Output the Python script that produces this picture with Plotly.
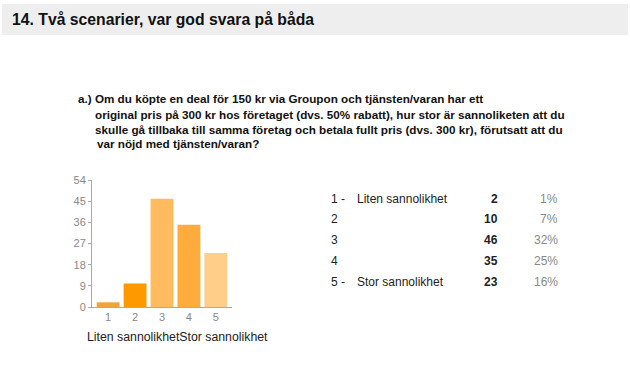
import plotly.graph_objects as go

categories = ["1", "2", "3", "4", "5"]
counts = [2, 10, 46, 35, 23]
percents = ["1%", "7%", "32%", "25%", "16%"]
row_nums = ["1 -", "2", "3", "4", "5 -"]
row_labels = ["Liten sannolikhet", "", "", "", "Stor sannolikhet"]
bar_colors = ["#F2A43A", "#FF9900", "#FFBB5E", "#FFAC3C", "#FFCF8A"]
y_ticks = [0, 9, 18, 27, 36, 45, 54]

title = "14. Två scenarier, var god svara på båda"
question = [
    "a.) Om du köpte en deal för 150 kr via Groupon och tjänsten/varan har ett",
    "original pris på 300 kr hos företaget (dvs. 50% rabatt), hur stor är sannoliketen att du",
    "skulle gå tillbaka till samma företag och betala fullt pris (dvs. 300 kr), förutsatt att du",
    "var nöjd med tjänsten/varan?",
]
bottom_label = "Liten sannolikhetStor sannolikhet"

W, H = 630, 371
L, R, T, B = 92, 232, 180, 307
FONT = "Arial, Liberation Sans, sans-serif"


def px(x):
    return (x - L) / (R - L)


def py(y):
    return (B - y) / (B - T)


fig = go.Figure()
fig.add_trace(go.Bar(
    x=[1, 2, 3, 4, 5], y=counts, marker=dict(color=bar_colors, line=dict(width=0)),
    width=0.85, hoverinfo="skip",
))

annotations = []
annotations.append(dict(x=px(10), y=py(19.5), xref="paper", yref="paper", text="<b>" + title + "</b>",
                        showarrow=False, xanchor="left", yanchor="middle",
                        font=dict(family=FONT, size=15.75, color="#111111")))
q_x = [76, 93, 93, 95]
q_y = [98, 114, 129, 143]
for t, xx, yy in zip(question, q_x, q_y):
    annotations.append(dict(x=px(xx), y=py(yy), xref="paper", yref="paper", text="<b>" + t + "</b>",
                            showarrow=False, xanchor="left", yanchor="middle",
                            font=dict(family=FONT, size=11.7, color="#111111")))
row_y = [199, 219, 240, 261, 282]
for n, lab, c, p, yy in zip(row_nums, row_labels, counts, percents, row_y):
    annotations.append(dict(x=px(329), y=py(yy), xref="paper", yref="paper", text=n,
                            showarrow=False, xanchor="left", yanchor="middle",
                            font=dict(family=FONT, size=12, color="#222222")))
    if lab:
        annotations.append(dict(x=px(355), y=py(yy), xref="paper", yref="paper", text=lab,
                                showarrow=False, xanchor="left", yanchor="middle",
                                font=dict(family=FONT, size=12, color="#222222")))
    annotations.append(dict(x=px(500), y=py(yy), xref="paper", yref="paper", text="<b>" + str(c) + "</b>",
                            showarrow=False, xanchor="right", yanchor="middle",
                            font=dict(family=FONT, size=12, color="#222222")))
    annotations.append(dict(x=px(560), y=py(yy), xref="paper", yref="paper", text=p,
                            showarrow=False, xanchor="right", yanchor="middle",
                            font=dict(family=FONT, size=12, color="#888888")))
annotations.append(dict(x=px(85), y=py(337), xref="paper", yref="paper", text=bottom_label,
                        showarrow=False, xanchor="left", yanchor="middle",
                        font=dict(family=FONT, size=12.3, color="#222222")))

shapes = [dict(type="rect", xref="paper", yref="paper", x0=px(2), x1=px(628), y0=py(4), y1=py(35),
               fillcolor="#EEEEEE", line=dict(width=0), layer="below")]

fig.update_layout(
    width=W, height=H,
    margin=dict(l=L, r=W - R, t=T, b=H - B, pad=0),
    paper_bgcolor="white", plot_bgcolor="white",
    showlegend=False,
    annotations=annotations, shapes=shapes,
    xaxis=dict(range=[0.4, 5.6], tickvals=[1, 2, 3, 4, 5], ticktext=categories,
               showline=True, linecolor="#AAAAAA", linewidth=1, ticks="", showgrid=False,
               zeroline=False, tickfont=dict(family=FONT, size=11, color="#888888"), fixedrange=True),
    yaxis=dict(range=[0, 54], tickvals=y_ticks, showline=True, linecolor="#AAAAAA", linewidth=1,
               ticks="outside", ticklen=3, tickcolor="#AAAAAA", showgrid=False, zeroline=False,
               tickfont=dict(family=FONT, size=11, color="#888888"), fixedrange=True),
)

fig.write_html("out.html")
